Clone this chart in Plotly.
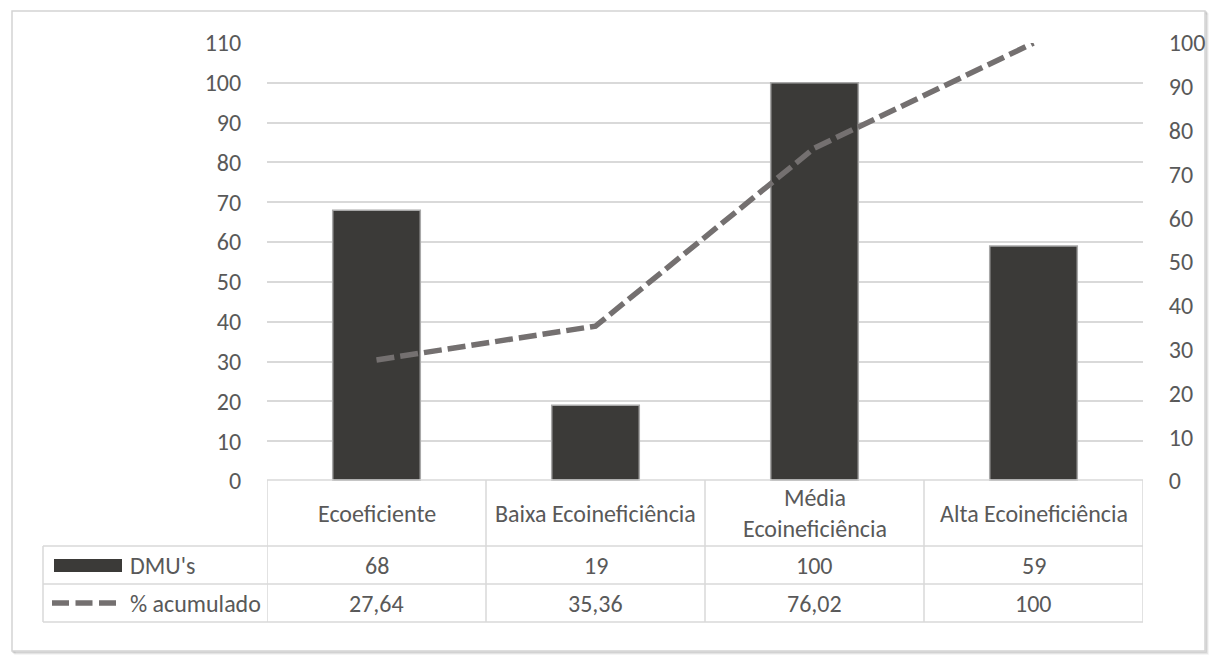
import plotly.graph_objects as go

# ---- data ----
categories = ["Ecoeficiente", "Baixa Ecoineficiência", "Média Ecoineficiência", "Alta Ecoineficiência"]
header_labels = ["Ecoeficiente", "Baixa Ecoineficiência", "Média<br>Ecoineficiência", "Alta Ecoineficiência"]
dmus = [68, 19, 100, 59]
pct_acumulado = [27.64, 35.36, 76.02, 100]
series_names = ["DMU's", "% acumulado"]
left_ticks = list(range(0, 111, 10))
right_ticks = list(range(0, 101, 10))

# ---- styling ----
W, H = 1211, 657
FONT = "Carlito, Calibri, Lato, sans-serif"
TXT = "#595959"
GRID = "#d9d9d9"
BAR = "#3b3a38"
LINE = "#747070"
FS = 24


def px(x):
    return x / W


def py(y):
    return 1 - y / H


def fmt_pt(v):
    if float(v).is_integer():
        return str(int(v))
    return f"{v:.2f}".replace(".", ",")


fig = go.Figure()

fig.add_trace(go.Bar(
    x=categories, y=dmus, name=series_names[0], width=0.4,
    marker=dict(color=BAR, line=dict(color="#a8a8a8", width=1.5)),
    yaxis="y", showlegend=False,
))
fig.add_trace(go.Scatter(
    x=categories, y=pct_acumulado, name=series_names[1], mode="lines",
    line=dict(color=LINE, width=5.5, dash="18px,6px"),
    yaxis="y2", showlegend=False,
))

shapes = []
annotations = []

# outer frame with soft shadow
for i, a in enumerate([0.10, 0.18, 0.30]):
    off = 3 - i
    shapes.append(dict(type="rect", xref="paper", yref="paper",
                       x0=px(12 + off), x1=px(1205 + off), y0=py(651 + off), y1=py(11 + off),
                       line=dict(color=f"rgba(120,120,120,{a})", width=1.5), fillcolor="rgba(0,0,0,0)",
                       layer="below"))
shapes.append(dict(type="rect", xref="paper", yref="paper",
                   x0=px(12), x1=px(1205), y0=py(651), y1=py(11),
                   line=dict(color="#d4d4d4", width=1.5), fillcolor="white", layer="below"))

# data table grid
y_top, y_hdr, y_r1, y_r2 = 480, 546, 584, 622
n = len(categories)
shapes.append(dict(type="line", xref="x", yref="paper", x0=-0.5, x1=n - 0.5,
                   y0=py(y_top), y1=py(y_top), line=dict(color=GRID, width=1.5)))
for yy in (y_hdr, y_r1, y_r2):
    shapes.append(dict(type="line", xref="paper", yref="paper", x0=px(43), x1=px(1143),
                       y0=py(yy), y1=py(yy), line=dict(color=GRID, width=1.5)))
for k in range(n + 1):
    shapes.append(dict(type="line", xref="x", yref="paper", x0=k - 0.5, x1=k - 0.5,
                       y0=py(y_top), y1=py(y_r2), line=dict(color=GRID, width=1.5)))
shapes.append(dict(type="line", xref="paper", yref="paper", x0=px(43), x1=px(43),
                   y0=py(y_hdr), y1=py(y_r2), line=dict(color=GRID, width=1.5)))

# legend keys in the table
shapes.append(dict(type="rect", xref="paper", yref="paper", x0=px(54), x1=px(122),
                   y0=py(572), y1=py(559), line=dict(color=BAR, width=0), fillcolor=BAR))
shapes.append(dict(type="line", xref="paper", yref="paper", x0=px(52), x1=px(117),
                   y0=py(603), y1=py(603), line=dict(color=LINE, width=5.5, dash="17px,6.5px")))

font = dict(family=FONT, size=FS, color=TXT)
annotations.append(dict(text=series_names[0], xref="paper", yref="paper", x=px(128), y=py(565),
                        xanchor="left", yanchor="middle", showarrow=False, font=font))
annotations.append(dict(text=series_names[1], xref="paper", yref="paper", x=px(128), y=py(603),
                        xanchor="left", yanchor="middle", showarrow=False, font=font))
for i, cat in enumerate(categories):
    annotations.append(dict(text=header_labels[i], xref="x", yref="paper", x=cat, y=py(513),
                            xanchor="center", yanchor="middle", showarrow=False, font=font))
    annotations.append(dict(text=fmt_pt(dmus[i]), xref="x", yref="paper", x=cat, y=py(565),
                            xanchor="center", yanchor="middle", showarrow=False, font=font))
    annotations.append(dict(text=fmt_pt(pct_acumulado[i]), xref="x", yref="paper", x=cat, y=py(603),
                            xanchor="center", yanchor="middle", showarrow=False, font=font))

fig.update_layout(
    width=W, height=H, autosize=False,
    margin=dict(l=0, r=0, t=0, b=0, pad=0, autoexpand=False),
    paper_bgcolor="white", plot_bgcolor="rgba(0,0,0,0)",
    font=font,
    bargap=0.6,
    xaxis=dict(domain=[px(267), px(1143)], type="category", range=[-0.5, n - 0.5],
               showticklabels=False, showgrid=False, zeroline=False, showline=False, ticks="",
               automargin=False),
    yaxis=dict(domain=[py(481), py(43)], range=[0, 110], tickvals=left_ticks,
               showgrid=True, gridcolor=GRID, gridwidth=1.5, zeroline=False, showline=False,
               ticks="outside", ticklen=20, tickcolor="rgba(0,0,0,0)", automargin=False,
               tickfont=dict(family=FONT, size=FS, color=TXT)),
    yaxis2=dict(overlaying="y", side="right", range=[0, 100], tickvals=right_ticks,
                showgrid=False, zeroline=False, showline=False, automargin=False,
                ticks="outside", ticklen=20, tickcolor="rgba(0,0,0,0)",
                tickfont=dict(family=FONT, size=FS, color=TXT)),
    shapes=shapes,
    annotations=annotations,
)

fig.write_html(
    "out.html",
    config={"displayModeBar": False},
    post_script="document.body.style.margin='0';document.body.style.overflow='hidden';",
)
